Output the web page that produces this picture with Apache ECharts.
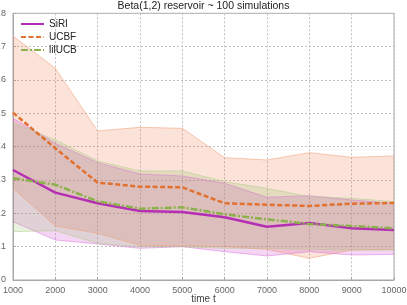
<!DOCTYPE html>
<html>
<head>
<meta charset="utf-8">
<script src="https://cdn.jsdelivr.net/npm/echarts@6/dist/echarts.min.js"></script>
<style>html,body{margin:0;padding:0;background:#fff;}#c{width:407px;height:305px;}</style>
</head>
<body>
<div id="c"></div>
<script>
var titleText = 'Beta(1,2) reservoir ~ 100 simulations';
var xName = 'time t';
var times = ['1000','2000','3000','4000','5000','6000','7000','8000','9000','10000'];

var siriMean  = [0.330, 0.262, 0.230, 0.207, 0.204, 0.188, 0.160, 0.171, 0.155, 0.150];
var siriLow   = [0.175, 0.120, 0.108, 0.095, 0.100, 0.085, 0.072, 0.085, 0.075, 0.077];
var siriHigh  = [0.485, 0.410, 0.352, 0.318, 0.312, 0.290, 0.248, 0.253, 0.240, 0.230];

var ucbfMean  = [0.502, 0.395, 0.292, 0.280, 0.278, 0.230, 0.226, 0.222, 0.229, 0.231];
var ucbfLow   = [0.275, 0.162, 0.140, 0.104, 0.103, 0.100, 0.092, 0.065, 0.090, 0.091];
var ucbfHigh  = [0.732, 0.635, 0.447, 0.458, 0.455, 0.367, 0.360, 0.382, 0.368, 0.372];

var lilMean   = [0.305, 0.286, 0.236, 0.214, 0.218, 0.197, 0.182, 0.168, 0.162, 0.155];
var lilLow    = [0.145, 0.148, 0.110, 0.100, 0.100, 0.095, 0.095, 0.092, 0.090, 0.090];
var lilHigh   = [0.472, 0.420, 0.357, 0.327, 0.327, 0.295, 0.275, 0.250, 0.245, 0.235];

var names = ['SiRI', 'UCBF', 'lilUCB'];
var lineColors = ['#b52fb5', '#e2702e', '#8cb04c'];
var bandColors = ['rgba(200,50,200,0.2)', 'rgba(235,115,65,0.2)', 'rgba(140,190,90,0.2)'];
var edgeColors = ['rgba(215,110,215,0.6)', 'rgba(240,160,120,0.7)', 'rgba(170,200,130,0.6)'];

function bandSeries(idx, low, high) {
  var diff = high.map(function (h, i) { return +(h - low[i]).toFixed(4); });
  return [
    { name: names[idx] + '_lo', type: 'line', stack: 'band' + idx, data: low, symbol: 'none',
      lineStyle: { width: 0.8, color: edgeColors[idx] }, silent: true, z: 1 },
    { name: names[idx] + '_band', type: 'line', stack: 'band' + idx, data: diff, symbol: 'none',
      lineStyle: { width: 0.8, color: edgeColors[idx] },
      areaStyle: { color: bandColors[idx], opacity: 1 }, silent: true, z: 1 }
  ];
}

var series = [].concat(
  bandSeries(1, ucbfLow, ucbfHigh),
  bandSeries(0, siriLow, siriHigh),
  bandSeries(2, lilLow, lilHigh),
  [
    { name: 'SiRI', type: 'line', data: siriMean, symbol: 'none', z: 5,
      lineStyle: { color: lineColors[0], width: 2.5, type: 'solid' }, itemStyle: { color: lineColors[0] } },
    { name: 'UCBF', type: 'line', data: ucbfMean, symbol: 'none', z: 5,
      lineStyle: { color: lineColors[1], width: 2.5, type: [5, 2.5] }, itemStyle: { color: lineColors[1] } },
    { name: 'lilUCB', type: 'line', data: lilMean, symbol: 'none', z: 5,
      lineStyle: { color: lineColors[2], width: 2.5, type: [7, 2, 2, 2] }, itemStyle: { color: lineColors[2] } }
  ]
);

var chart = echarts.init(document.getElementById('c'), null, { renderer: 'canvas' });
chart.setOption({
  animation: false,
  backgroundColor: '#fff',
  textStyle: { fontFamily: 'Liberation Sans' },
  title: { text: titleText, left: 'center', top: 1, padding: 0,
    textStyle: { fontSize: 10.5, fontWeight: 'normal', color: '#222', fontFamily: 'Liberation Sans' } },
  legend: { data: names, orient: 'vertical', left: 20, top: 19, padding: 0, itemWidth: 23, itemHeight: 10, itemGap: 3,
    itemStyle: { opacity: 0 },
    textStyle: { fontSize: 10, color: '#222', fontFamily: 'Liberation Sans' } },
  grid: { left: 13, right: 13, top: 13.3, bottom: 25, outerBoundsMode: 'none', containLabel: false,
    show: true, borderColor: '#a8a8a8', borderWidth: 1 },
  xAxis: {
    type: 'category', data: times, boundaryGap: false,
    name: xName, nameLocation: 'middle', nameGap: 14, nameMoveOverlap: false,
    nameTextStyle: { fontSize: 10, color: '#444', fontFamily: 'Liberation Sans' },
    axisLine: { show: true, lineStyle: { color: '#a8a8a8' } },
    axisTick: { show: true, inside: true, length: 3, interval: 0, lineStyle: { color: '#a8a8a8' } },
    axisLabel: { interval: 0, fontSize: 9, color: '#666', margin: 6, fontFamily: 'Liberation Sans' },
    splitLine: { show: true, interval: 0, lineStyle: { color: '#c0c0c0', type: [2, 2], width: 1 } }
  },
  yAxis: {
    type: 'value', min: 0, max: 0.8, interval: 0.1,
    axisLine: { show: true, lineStyle: { color: '#a8a8a8' } },
    axisTick: { show: true, inside: true, length: 3, lineStyle: { color: '#a8a8a8' } },
    axisLabel: { fontSize: 9, color: '#666', margin: 7, fontFamily: 'Liberation Sans' },
    splitLine: { show: true, lineStyle: { color: '#c0c0c0', type: [2, 2], width: 1 } }
  },
  series: series
});
</script>
</body>
</html>
